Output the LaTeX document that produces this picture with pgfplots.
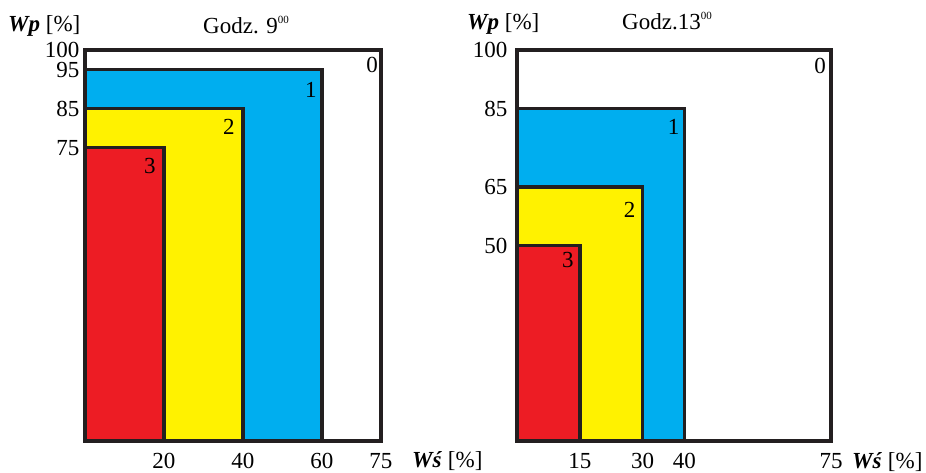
\documentclass[border=0pt]{standalone}
\usepackage{pgfplots}
\pgfplotsset{compat=1.18}
\usepackage{fontspec}
\setmainfont{Liberation Serif}

\definecolor{cred}{HTML}{ED1C24}
\definecolor{cyell}{HTML}{FFF200}
\definecolor{cblue}{HTML}{00AEEF}
\definecolor{cline}{HTML}{231F20}

\newcommand{\chartfont}{\fontsize{23}{25}\selectfont}
\newcommand{\hoursup}[1]{\raisebox{10pt}{\fontsize{11}{11}\selectfont #1}}

\pgfplotsset{
  zone/.style={draw=cline, line width=3.5pt, line join=miter},
  panel/.style={
    scale only axis,
    anchor=south west,
    height=391pt,
    xmin=0, xmax=75, ymin=0, ymax=100,
    axis line style={draw=none},
    major tick length=0pt,
    clip=false,
    tick label style={font=\chartfont},
    /pgf/number format/assume math mode=true,
    xticklabel style={yshift=-9pt},
    yticklabel style={xshift=-2pt, inner ysep=0pt},
  },
}
\tikzset{num/.style={anchor=north east, inner sep=0pt, font=\chartfont}}

\begin{document}
\begin{tikzpicture}
\useasboundingbox (0,0) rectangle (926pt,473pt);

% Godz. 9
\begin{axis}[panel, at={(85pt,32pt)}, width=296pt,
  xtick={20,40,60,75}, ytick={75,85,95,100}]
\addplot[zone, fill=white] coordinates {(0,0) (0,100) (75,100) (75,0)} -- cycle;
\addplot[zone, fill=cblue] coordinates {(0,0) (0,95) (60,95) (60,0)} -- cycle;
\addplot[zone, fill=cyell] coordinates {(0,0) (0,85) (40,85) (40,0)} -- cycle;
\addplot[zone, fill=cred] coordinates {(0,0) (0,75) (20,75) (20,0)} -- cycle;
\node[num, xshift=-3pt, yshift=-7pt] at (axis cs:75,100) {0};
\node[num, xshift=-5pt, yshift=-13pt] at (axis cs:60,95) {1};
\node[num, xshift=-8pt, yshift=-10pt] at (axis cs:40,85) {2};
\node[num, xshift=-8pt, yshift=-10pt] at (axis cs:20,75) {3};
\end{axis}

% Godz. 13
\begin{axis}[panel, at={(517pt,32pt)}, width=314pt,
  xtick={15,30,40,75}, ytick={50,65,85,100},
  yticklabel style={xshift=-4pt}]
\addplot[zone, fill=white] coordinates {(0,0) (0,100) (75,100) (75,0)} -- cycle;
\addplot[zone, fill=cblue] coordinates {(0,0) (0,85) (40,85) (40,0)} -- cycle;
\addplot[zone, fill=cyell] coordinates {(0,0) (0,65) (30,65) (30,0)} -- cycle;
\addplot[zone, fill=cred] coordinates {(0,0) (0,50) (15,50) (15,0)} -- cycle;
\node[num, xshift=-5pt, yshift=-8pt] at (axis cs:75,100) {0};
\node[num, xshift=-5pt, yshift=-10pt] at (axis cs:40,85) {1};
\node[num, xshift=-7pt, yshift=-15pt] at (axis cs:30,65) {2};
\node[num, xshift=-6pt, yshift=-7pt] at (axis cs:15,50) {3};
\end{axis}

% titles and axis names
\node[anchor=base west, inner sep=0pt, font=\chartfont] at (8pt,441pt) {\textbf{\textit{Wp}} [\%]};
\node[anchor=base west, inner sep=0pt, font=\chartfont] at (203pt,439pt) {Godz. 9\hoursup{00}};
\node[anchor=base west, inner sep=0pt, font=\chartfont] at (412pt,5pt) {\textbf{\textit{Wś}} [\%]};
\node[anchor=base west, inner sep=0pt, font=\chartfont] at (467pt,443pt) {\textbf{\textit{Wp}} [\%]};
\node[anchor=base west, inner sep=0pt, font=\chartfont] at (622pt,443pt) {Godz.13\hoursup{00}};
\node[anchor=base west, inner sep=0pt, font=\chartfont] at (852pt,4pt) {\textbf{\textit{Wś}} [\%]};
\end{tikzpicture}
\end{document}
